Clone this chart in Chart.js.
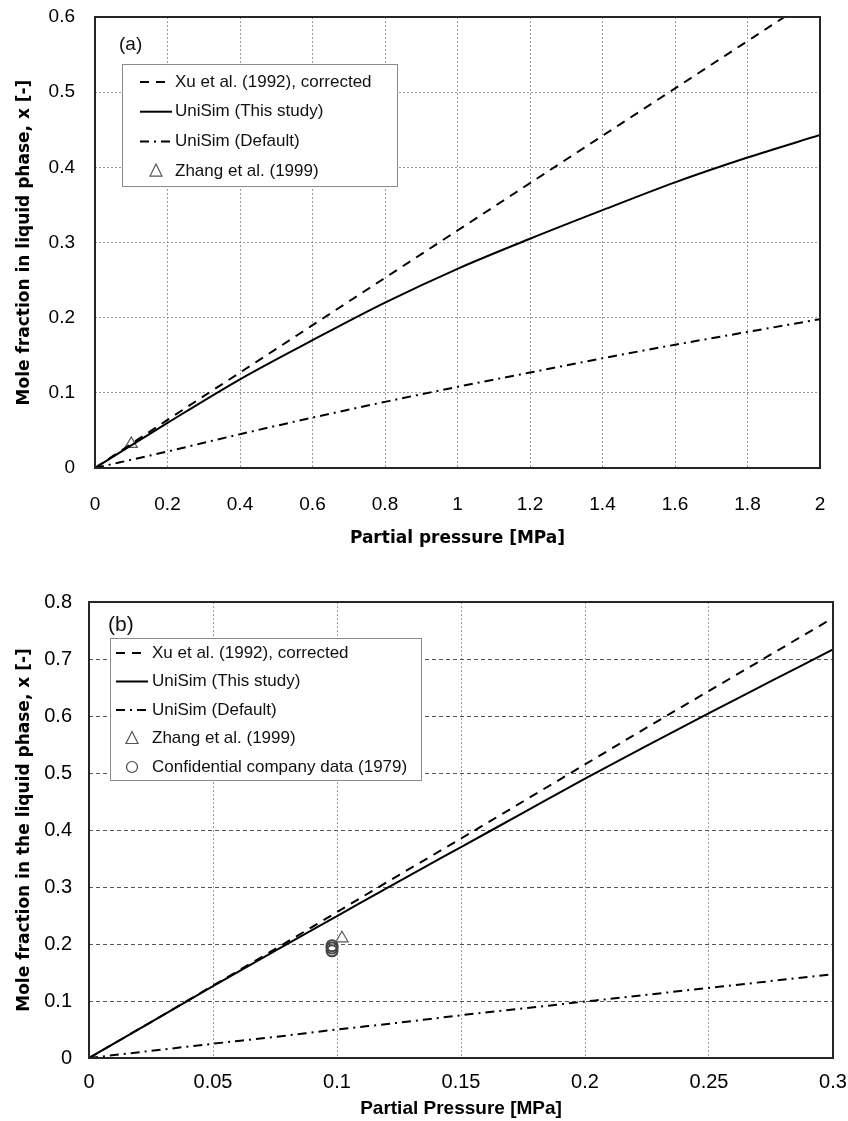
<!DOCTYPE html>
<html>
<head>
<meta charset="utf-8">
<script src="https://cdn.jsdelivr.net/npm/chart.js@4.4.1/dist/chart.umd.min.js"></script>
<style>
  html, body { margin: 0; padding: 0; background: #fff; }
  #wrap { position: relative; width: 848px; height: 1121px; }
  canvas { position: absolute; left: 0; }
  #chartA { top: 0; }
  #chartB { top: 560px; }
</style>
</head>
<body>
<div id="wrap">
  <canvas id="chartA" width="848" height="560"></canvas>
  <canvas id="chartB" width="848" height="561"></canvas>
</div>
<script>
// ---- panel (a): 0 - 2 MPa ----
const pressA      = [0, 0.2, 0.4, 0.6, 0.8, 1.0, 1.2, 1.4, 1.6, 1.8, 2.0];
const xuA         = [0, 0.064, 0.127, 0.19, 0.253, 0.316, 0.379, 0.442, 0.505, 0.568, 0.631];
const thisStudyA  = [0, 0.06, 0.118, 0.17, 0.22, 0.265, 0.305, 0.343, 0.38, 0.413, 0.443];
const defaultA    = [0, 0.022, 0.045, 0.067, 0.088, 0.108, 0.127, 0.146, 0.164, 0.181, 0.198];
const zhangPressA = [0.1];
const zhangXA     = [0.032];

// ---- panel (b): 0 - 0.3 MPa ----
const pressB      = [0, 0.025, 0.05, 0.075, 0.1, 0.125, 0.15, 0.175, 0.2, 0.225, 0.25, 0.275, 0.3];
const xuB         = [0, 0.063, 0.127, 0.191, 0.256, 0.321, 0.385, 0.45, 0.515, 0.58, 0.644, 0.708, 0.772];
const thisStudyB  = [0, 0.063, 0.126, 0.188, 0.249, 0.31, 0.37, 0.43, 0.49, 0.548, 0.605, 0.661, 0.717];
const defaultB    = [0, 0.0125, 0.025, 0.037, 0.05, 0.062, 0.075, 0.087, 0.099, 0.111, 0.123, 0.135, 0.147];
const zhangPressB = [0.102];
const zhangXB     = [0.21];
const compPressB  = [0.098, 0.098, 0.098];
const compXB      = [0.188, 0.193, 0.197];

const labels = {
  xu: 'Xu et al. (1992), corrected',
  study: 'UniSim (This study)',
  def: 'UniSim (Default)',
  zhang: 'Zhang et al. (1999)',
  comp: 'Confidential company data (1979)'
};

const pts = (xs, ys) => xs.map((x, i) => ({x: x, y: ys[i]}));
const fmt = v => String(+v.toFixed(2));

function lineSet(label, xs, ys, dash) {
  return {
    label: label, data: pts(xs, ys), showLine: true,
    borderColor: '#000', borderWidth: 2, borderDash: dash,
    pointRadius: 0, cubicInterpolationMode: 'monotone'
  };
}
function markSet(label, xs, ys, style, r, color, bw) {
  return {
    label: label, data: pts(xs, ys), showLine: false,
    pointStyle: style, pointRadius: r, pointHoverRadius: r,
    pointBorderColor: color, pointBackgroundColor: 'rgba(0,0,0,0)', pointBorderWidth: bw
  };
}

// frame, panel tag and the legend box inside the plot
const panelDecor = {
  id: 'panelDecor',
  afterDatasetsDraw(chart, args, o) {
    const ctx = chart.ctx;
    const a = chart.chartArea;
    ctx.save();
    ctx.strokeStyle = '#262626';
    ctx.lineWidth = 2;
    ctx.strokeRect(a.left, a.top, a.right - a.left, a.bottom - a.top);

    ctx.fillStyle = '#111';
    ctx.font = o.tagFont;
    ctx.textAlign = 'left';
    ctx.textBaseline = 'middle';
    ctx.fillText(o.tag, o.tagX, o.tagY);

    const b = o.box;
    ctx.fillStyle = '#fff';
    ctx.fillRect(b.x, b.y, b.w, b.h);
    ctx.strokeStyle = '#8a8a8a';
    ctx.lineWidth = 1;
    ctx.strokeRect(b.x + 0.5, b.y + 0.5, b.w, b.h);

    ctx.font = o.font;
    chart.data.datasets.forEach((ds, i) => {
      const y = b.y + o.first + i * o.gap;
      const x0 = o.sx, x1 = o.sx + 32, xm = o.sx + 16;
      ctx.strokeStyle = '#000';
      if (ds.showLine) {
        ctx.lineWidth = 2;
        ctx.setLineDash(ds.borderDash || []);
        ctx.beginPath();
        ctx.moveTo(x0, y);
        ctx.lineTo(x1, y);
        ctx.stroke();
        ctx.setLineDash([]);
      } else {
        ctx.strokeStyle = ds.pointBorderColor;
        ctx.lineWidth = 1.2;
        ctx.beginPath();
        if (ds.pointStyle === 'triangle') {
          ctx.moveTo(xm, y - 7);
          ctx.lineTo(xm + 6, y + 5);
          ctx.lineTo(xm - 6, y + 5);
          ctx.closePath();
        } else {
          ctx.arc(xm, y, 5.5, 0, Math.PI * 2);
        }
        ctx.stroke();
      }
      ctx.fillStyle = '#111';
      ctx.fillText(ds.label, o.tx, y);
    });
    ctx.restore();
  }
};

// fixed axis sizes; drop the label overflow padding so layout.padding sets the plot box
function axes(cfg) {
  return {
    x: {
      type: 'linear', min: 0, max: cfg.xMax,
      afterFit: s => { s.height = cfg.xH; s.paddingLeft = 0; s.paddingRight = 0; },
      ticks: { stepSize: cfg.xStep, padding: cfg.xPad, color: '#000',
               font: { size: cfg.tickSize }, callback: fmt },
      grid: { color: cfg.vGrid, lineWidth: 1, drawTicks: false },
      border: { display: false, dash: cfg.vDash },
      title: { display: true, text: cfg.xTitle, color: '#000',
               font: cfg.xTitleFont, padding: { top: 0, bottom: cfg.xTitlePad } }
    },
    y: {
      type: 'linear', min: 0, max: cfg.yMax,
      afterFit: s => { s.width = cfg.yW; s.paddingTop = 0; s.paddingBottom = 0; },
      ticks: { stepSize: 0.1, padding: cfg.yPad, color: '#000',
               font: { size: cfg.tickSize }, callback: fmt },
      grid: { color: cfg.hGrid, lineWidth: 1, drawTicks: false },
      border: { display: false, dash: cfg.hDash },
      title: { display: true, text: cfg.yTitle, color: '#000',
               font: { family: 'DejaVu Sans', weight: 'bold', size: 17 },
               padding: { top: 14, bottom: 0 } }
    }
  };
}

Chart.defaults.font.family = "'Liberation Sans', Arial, sans-serif";
Chart.defaults.animation = false;

new Chart(document.getElementById('chartA'), {
  type: 'scatter',
  data: {
    datasets: [
      lineSet(labels.xu, pressA, xuA, [9, 7]),
      lineSet(labels.study, pressA, thisStudyA, []),
      lineSet(labels.def, pressA, defaultA, [9, 5, 2, 5]),
      markSet(labels.zhang, zhangPressA, zhangXA, 'triangle', 7, '#555', 1.2)
    ]
  },
  options: {
    responsive: false,
    layout: { padding: { top: 17, right: 28, left: 0, bottom: 0 } },
    plugins: {
      legend: { display: false },
      tooltip: { enabled: false },
      panelDecor: {
        tag: '(a)', tagX: 119, tagY: 45, tagFont: "19px 'Liberation Sans', Arial, sans-serif",
        box: { x: 122, y: 64, w: 275, h: 122 }, first: 18, gap: 29.7,
        sx: 140, tx: 175, font: "17px 'Liberation Sans', Arial, sans-serif"
      }
    },
    scales: axes({
      xMax: 2, xStep: 0.2, xH: 92, xPad: 25, tickSize: 19,
      xTitle: 'Partial pressure [MPa]',
      xTitleFont: { family: 'DejaVu Sans', weight: 'bold', size: 17 }, xTitlePad: 11,
      yMax: 0.6, yW: 95, yPad: 20,
      yTitle: 'Mole fraction in liquid phase, x [-]',
      vGrid: '#9a9a9a', vDash: [2, 2], hGrid: '#9a9a9a', hDash: [2, 2]
    })
  },
  plugins: [panelDecor]
});

new Chart(document.getElementById('chartB'), {
  type: 'scatter',
  data: {
    datasets: [
      lineSet(labels.xu, pressB, xuB, [9, 7]),
      lineSet(labels.study, pressB, thisStudyB, []),
      lineSet(labels.def, pressB, defaultB, [9, 5, 2, 5]),
      markSet(labels.zhang, zhangPressB, zhangXB, 'triangle', 7, '#555', 1.2),
      markSet(labels.comp, compPressB, compXB, 'circle', 5.5, '#444', 2)
    ]
  },
  options: {
    responsive: false,
    layout: { padding: { top: 42, right: 15, left: 0, bottom: 0 } },
    plugins: {
      legend: { display: false },
      tooltip: { enabled: false },
      panelDecor: {
        tag: '(b)', tagX: 108, tagY: 65, tagFont: "21px 'Liberation Sans', Arial, sans-serif",
        box: { x: 110, y: 78, w: 311, h: 142 }, first: 15, gap: 28.5,
        sx: 116, tx: 152, font: "17px 'Liberation Sans', Arial, sans-serif"
      }
    },
    scales: axes({
      xMax: 0.3, xStep: 0.05, xH: 63, xPad: 12, tickSize: 20,
      xTitle: 'Partial Pressure [MPa]',
      xTitleFont: { family: "'Liberation Sans', Arial, sans-serif", weight: 'bold', size: 19 }, xTitlePad: 1,
      yMax: 0.8, yW: 89, yPad: 17,
      yTitle: 'Mole fraction in the liquid phase, x [-]',
      vGrid: '#a0a0a0', vDash: [2, 2], hGrid: '#555', hDash: [4, 3]
    })
  },
  plugins: [panelDecor]
});
</script>
</body>
</html>
